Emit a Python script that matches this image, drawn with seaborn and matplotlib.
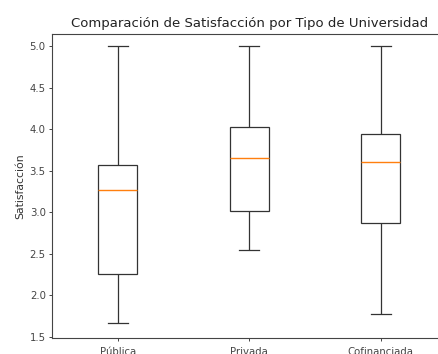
import pandas as pd
import matplotlib
matplotlib.use("Agg")
import matplotlib.pyplot as plt
import seaborn as sns

# Five-number summaries (min, Q1, median, Q3, max)
tipos = ["Pública", "Privada", "Cofinanciada"]
publica = [1.66, 2.26, 3.27, 3.57, 5.0]
privada = [2.54, 3.01, 3.65, 4.03, 5.0]
cofinanciada = [1.77, 2.87, 3.61, 3.94, 5.0]

df = pd.DataFrame({
    "Tipo": [tipos[0]] * len(publica) + [tipos[1]] * len(privada) + [tipos[2]] * len(cofinanciada),
    "Satisfacción": publica + privada + cofinanciada,
})

fig = plt.figure(figsize=(4.39, 3.54), dpi=100)
ax = fig.add_axes([0.1185, 0.0452, 0.8986, 0.8588])

sns.boxplot(data=df, x="Tipo", y="Satisfacción", order=tipos, ax=ax,
            width=0.3, color="white", linecolor="#333333", linewidth=0.9,
            whis=1.5, medianprops={"color": "#ff7f0e", "linewidth": 1.0})

ax.set_ylim(1.485, 5.15)
ax.set_xlabel("")
ax.set_ylabel("Satisfacción", fontsize=7.8, color="#333333", labelpad=3)
ax.set_title("Comparación de Satisfacción por Tipo de Universidad", fontsize=9.5, color="#222222", pad=5)
ax.tick_params(labelsize=7.3, length=2.5, width=0.7, colors="#444444", pad=2)
ax.tick_params(axis="x", pad=4)
for s in ax.spines.values():
    s.set_linewidth(0.8)
    s.set_color("#444444")
ax.spines["right"].set_visible(False)

fig.savefig("out.png", dpi=100)
